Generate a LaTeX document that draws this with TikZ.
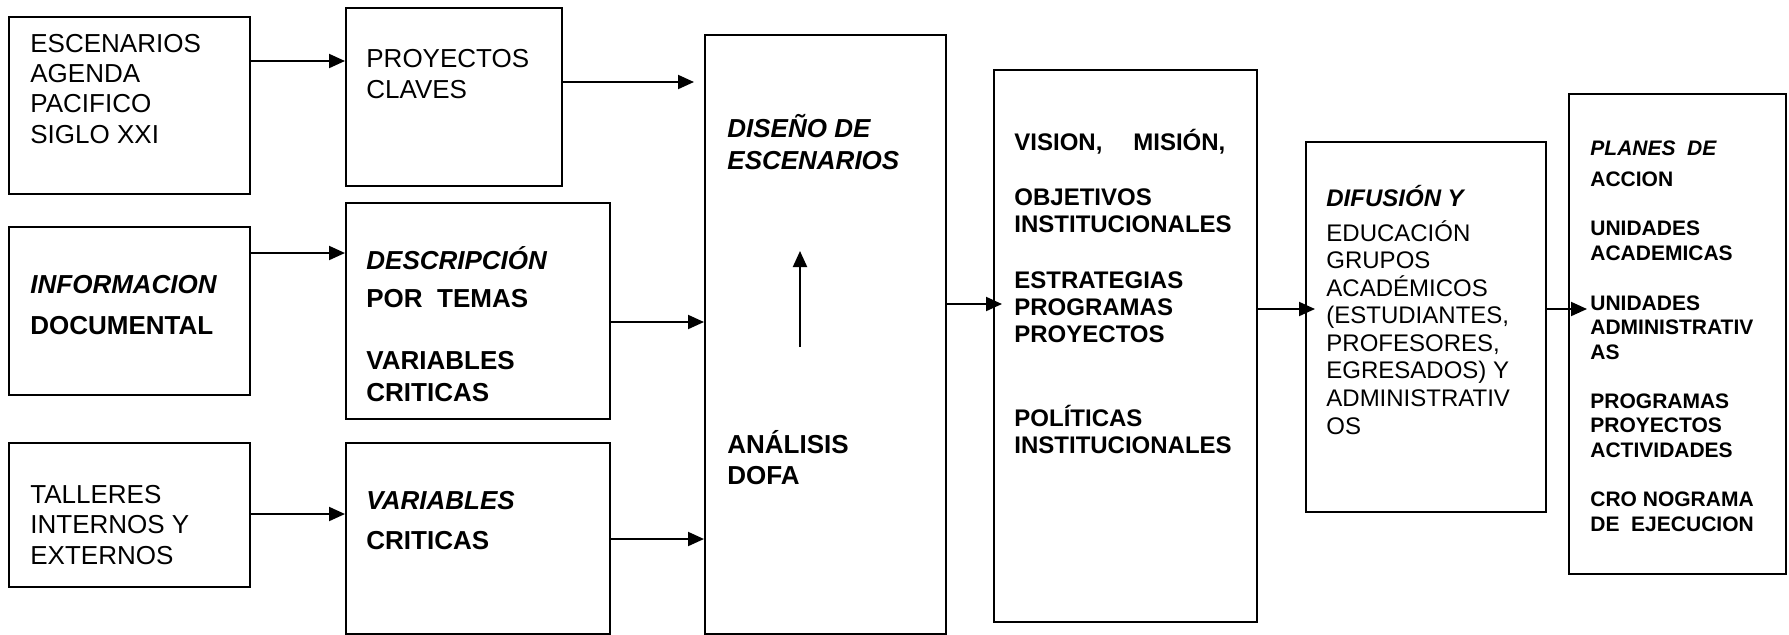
\documentclass[tikz,border=0pt]{standalone}
\usepackage{fontspec}
\setmainfont{Liberation Sans}
\usetikzlibrary{positioning, arrows.meta}

\tikzset{
    caja/.style={draw, line width=1pt, inner sep=0pt, anchor=north west},
    texto/.style={anchor=base west, inner sep=0pt, align=left},
    flecha/.style={-{Triangle[length=8pt, width=7pt]}, line width=1pt},
}

\begin{document}
\begin{tikzpicture}[x=0.5pt, y=-0.5pt]
    \useasboundingbox (0,0) rectangle (1789,634);

    % cajas: nombre/x/y/ancho/alto
    \foreach \name/\x/\y/\w/\h in {esc/8/16/241/177, proy/345/7/216/178,
        info/8/226/241/168, desc/345/202/264/216, tall/8/442/241/144,
        vari/345/442/264/191, dise/704/34/241/599, vision/993/69/263/552,
        difu/1305/141/240/370, plan/1568/93/217/480}
        \node[caja, minimum width=0.5pt*\w, minimum height=0.5pt*\h] (\name) at (\x,\y) {};

    % textos (anclados en la linea base de la ultima linea)
    \node[texto, font=\fontsize{13}{15.15}\selectfont] (esc-t) at (30,143)
        {ESCENARIOS\\AGENDA\\PACIFICO\\SIGLO XXI};
    \node[texto, font=\fontsize{13}{15.15}\selectfont] (proy-t) at (366,98)
        {PROYECTOS\\CLAVES};
    \node[texto, font=\fontsize{13}{15.15}\selectfont\bfseries] (info-t) at (30,334)
        {{\itshape INFORMACION}\\[5.35pt] DOCUMENTAL};
    \node[texto, font=\fontsize{13}{15.15}\selectfont\bfseries] (desc-t) at (366,401)
        {{\itshape DESCRIPCIÓN}\\[3.85pt] POR\ \ TEMAS\\[15.85pt] VARIABLES\\[0.85pt] CRITICAS};
    \node[texto, font=\fontsize{13}{15.15}\selectfont] (tall-t) at (30,564)
        {TALLERES\\INTERNOS Y\\EXTERNOS};
    \node[texto, font=\fontsize{13}{15.15}\selectfont\bfseries] (vari-t) at (366,549)
        {{\itshape VARIABLES}\\[4.85pt] CRITICAS};
    \node[texto, font=\fontsize{13}{15.15}\selectfont\bfseries\itshape] (dise-t) at (727,169)
        {DISEÑO DE\\[0.85pt] ESCENARIOS};
    \node[texto, font=\fontsize{13}{15.15}\selectfont\bfseries] (dofa-t) at (727,484)
        {ANÁLISIS\\[0.35pt] DOFA};
    \node[texto, font=\fontsize{12}{13.5}\selectfont\bfseries] (vision-t) at (1014,453)
        {\makebox[105.5pt][l]{VISION,\hfill MISIÓN,}\\[14pt] OBJETIVOS\\INSTITUCIONALES\\[14.5pt]
         ESTRATEGIAS\\PROGRAMAS\\PROYECTOS\\[28.5pt] POLÍTICAS\\INSTITUCIONALES};
    \node[texto, font=\fontsize{12}{13.785}\selectfont] (difu-t) at (1326,434)
        {{\bfseries\itshape DIFUSIÓN Y}\\[3.7pt] EDUCACIÓN\\GRUPOS\\ACADÉMICOS\\(ESTUDIANTES,\\
         PROFESORES,\\EGRESADOS) Y\\ADMINISTRATIV\\OS};
    \node[texto, font=\fontsize{10.5}{12.3}\selectfont\bfseries] (plan-t) at (1590,531)
        {{\itshape PLANES\ \ DE}\\[3.2pt] ACCION\\[12.2pt] UNIDADES\\ACADEMICAS\\[12.7pt]
         UNIDADES\\ADMINISTRATIV\\AS\\[12.2pt] PROGRAMAS\\PROYECTOS\\ACTIVIDADES\\[12.2pt]
         CRO NOGRAMA\\DE\ \ EJECUCION};

    % flechas
    \draw[flecha] ([shift={(0,45)}]esc.north east) -- ([shift={(0,45)}]esc.north east -| proy.west);
    \draw[flecha] ([shift={(0,27)}]info.north east) -- ([shift={(0,27)}]info.north east -| desc.west);
    \draw[flecha] ([shift={(0,72)}]tall.north east) -- ([shift={(0,72)}]tall.north east -| vari.west);
    \draw[flecha, shorten >=5pt] ([shift={(0,75)}]proy.north east) -- ([shift={(0,75)}]proy.north east -| dise.west);
    \draw[flecha] ([shift={(0,120)}]desc.north east) -- ([shift={(0,120)}]desc.north east -| dise.west);
    \draw[flecha] ([shift={(0,97)}]vari.north east) -- ([shift={(0,97)}]vari.north east -| dise.west);
    \draw[flecha, shorten >=-4.5pt] ([shift={(0,270)}]dise.north east) -- ([shift={(0,270)}]dise.north east -| vision.west);
    \draw[flecha, shorten >=-5pt] ([shift={(0,240)}]vision.north east) -- ([shift={(0,240)}]vision.north east -| difu.west);
    \draw[flecha, shorten >=-9.5pt] ([shift={(0,168)}]difu.north east) -- ([shift={(0,168)}]difu.north east -| plan.west);

    % flecha interna
    \coordinate (dofa-arr) at (800,347);
    \coordinate (dise-arr) at (800,251);
    \draw[flecha] (dofa-arr) -- (dise-arr);
\end{tikzpicture}
\end{document}
